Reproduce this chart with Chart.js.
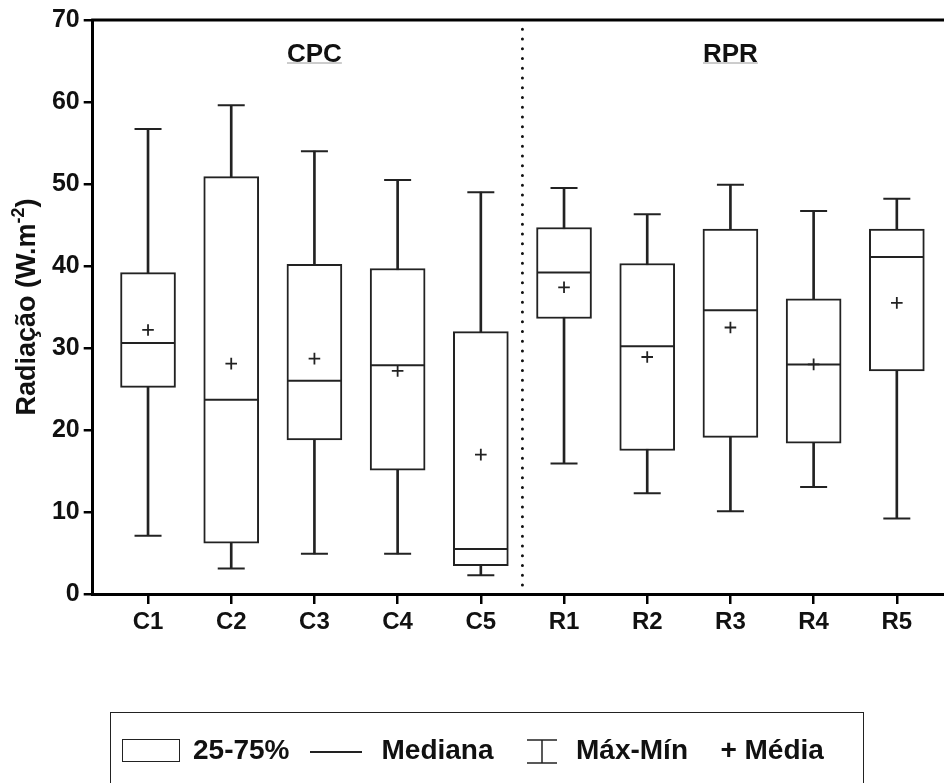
<!DOCTYPE html>
<html lang="pt">
<head>
<meta charset="utf-8">
<title>Radiação por ponto de coleta</title>
<script src="https://cdn.jsdelivr.net/npm/chart.js@4.4.1/dist/chart.umd.min.js"></script>
<style>
  html, body { margin: 0; padding: 0; background: #fff; overflow: hidden; }
  #wrap { position: relative; width: 944px; height: 783px; overflow: hidden; background: #fff; }
  #chart { position: absolute; left: 0; top: 0; }
  .lg { position: absolute; font-family: 'Liberation Sans', Arial, sans-serif; font-weight: bold;
        font-size: 28px; line-height: 28px; color: #111; white-space: nowrap; }
  #legendBox { position: absolute; left: 110px; top: 712px; width: 754px; height: 90px;
               border: 1.5px solid #222; box-sizing: border-box; }
  #symBox { position: absolute; left: 121.5px; top: 739px; width: 58.5px; height: 22.5px;
            border: 1.5px solid #222; box-sizing: border-box; }
  #symLine { position: absolute; left: 310px; top: 751px; width: 52px; height: 1.5px; background: #222; }
  #symRange { position: absolute; left: 526px; top: 739px; }
</style>
</head>
<body>
<div id="wrap">
  <canvas id="chart" width="944" height="783"></canvas>
  <div id="legendBox"></div>
  <div id="symBox"></div>
  <span class="lg" style="left:193px; top:736px;">25-75%</span>
  <div id="symLine"></div>
  <span class="lg" style="left:381.5px; top:736px;">Mediana</span>
  <svg id="symRange" width="32" height="25" viewBox="0 0 32 25">
    <line x1="1" y1="1" x2="31" y2="1" stroke="#222" stroke-width="1.5"/>
    <line x1="16" y1="1" x2="16" y2="24" stroke="#222" stroke-width="1.5"/>
    <line x1="1" y1="24" x2="31" y2="24" stroke="#222" stroke-width="1.5"/>
  </svg>
  <span class="lg" style="left:576px; top:736px;">Máx-Mín</span>
  <span class="lg" style="left:720.5px; top:736px;">+</span>
  <span class="lg" style="left:744.5px; top:736px;">Média</span>
</div>
<script>
// Pontos de coleta
const categories = ['C1', 'C2', 'C3', 'C4', 'C5', 'R1', 'R2', 'R3', 'R4', 'R5'];

// Estatísticas da radiação (W.m-2) por ponto
const maxVals    = [56.7, 59.6, 54.0, 50.5, 49.0, 49.5, 46.3, 49.9, 46.7, 48.2];
const q3Vals     = [39.2, 50.9, 40.2, 39.7, 32.0, 44.7, 40.3, 44.5, 36.0, 44.5];
const medianVals = [30.6, 23.7, 26.0, 27.9, 5.5, 39.2, 30.2, 34.6, 28.0, 41.1];
const meanVals   = [32.2, 28.1, 28.7, 27.2, 17.0, 37.4, 28.9, 32.5, 28.0, 35.5];
const q1Vals     = [25.2, 6.2, 18.8, 15.1, 3.45, 33.6, 17.5, 19.1, 18.4, 27.2];
const minVals    = [7.1, 3.1, 4.9, 4.9, 2.3, 15.9, 12.3, 10.1, 13.05, 9.2];

// Grupos (índices do primeiro e último ponto de cada grupo)
const groupLabels = ['CPC', 'RPR'];
const groupSpans  = [[0, 4], [5, 9]];

// Eixo Y
const yTicks = [0, 10, 20, 30, 40, 50, 60, 70];
const yTitle = 'Radiação (W.m';
const yTitleSup = '-2';
const yTitleEnd = ')';

const FONT = "'Liberation Sans', Arial, sans-serif";
const INK = '#222';

const pos = (i) => i + 1;
const sepX = (groupSpans[0][1] + groupSpans[1][0]) / 2 + 1;

const boxData     = categories.map((c, i) => ({ x: pos(i), y: [q1Vals[i], q3Vals[i]] }));
const stemData    = categories.map((c, i) => ({ x: pos(i), y: [minVals[i], maxVals[i]] }));
const capData     = categories.flatMap((c, i) => [{ x: pos(i), y: maxVals[i] }, { x: pos(i), y: minVals[i] }]);
const medianData  = categories.map((c, i) => ({ x: pos(i), y: medianVals[i] }));
const meanData    = categories.map((c, i) => ({ x: pos(i), y: meanVals[i] }));

// Moldura superior da área do gráfico
const topFrame = {
  id: 'topFrame',
  afterDraw(chart) {
    const { ctx, chartArea } = chart;
    ctx.save();
    ctx.strokeStyle = '#000';
    ctx.lineWidth = 3;
    ctx.beginPath();
    ctx.moveTo(chartArea.left - 1.5, chartArea.top);
    ctx.lineTo(chartArea.right, chartArea.top);
    ctx.stroke();
    ctx.restore();
  }
};

// Rótulos dos grupos, sublinhados
const groupTitles = {
  id: 'groupTitles',
  afterDatasetsDraw(chart) {
    const { ctx } = chart;
    const xs = chart.scales.x, ys = chart.scales.y;
    ctx.save();
    ctx.font = 'bold 26px ' + FONT;
    ctx.fillStyle = '#111';
    ctx.textAlign = 'center';
    ctx.textBaseline = 'alphabetic';
    groupLabels.forEach((lab, g) => {
      const cx = xs.getPixelForValue((pos(groupSpans[g][0]) + pos(groupSpans[g][1])) / 2);
      const base = ys.top + 41.5;
      ctx.fillText(lab, cx, base);
      const w = ctx.measureText(lab).width;
      ctx.strokeStyle = '#9a9a9a';
      ctx.lineWidth = 1;
      ctx.beginPath();
      ctx.moveTo(cx - w / 2, base + 1.5);
      ctx.lineTo(cx + w / 2, base + 1.5);
      ctx.stroke();
    });
    ctx.restore();
  }
};

// Título do eixo Y com expoente
const yAxisTitle = {
  id: 'yAxisTitle',
  afterDraw(chart) {
    const { ctx, chartArea } = chart;
    const mainFont = 'bold 27px ' + FONT;
    const supFont = 'bold 18px ' + FONT;
    ctx.save();
    ctx.font = mainFont;
    const w1 = ctx.measureText(yTitle).width;
    const w3 = ctx.measureText(yTitleEnd).width;
    ctx.font = supFont;
    const w2 = ctx.measureText(yTitleSup).width;
    const total = w1 + w2 + w3;
    ctx.translate(35, (chartArea.top + chartArea.bottom) / 2);
    ctx.rotate(-Math.PI / 2);
    ctx.fillStyle = '#111';
    ctx.textBaseline = 'alphabetic';
    ctx.textAlign = 'left';
    let x = -total / 2;
    ctx.font = mainFont;
    ctx.fillText(yTitle, x, 0);
    x += w1;
    ctx.font = supFont;
    ctx.fillText(yTitleSup, x, -11);
    x += w2;
    ctx.font = mainFont;
    ctx.fillText(yTitleEnd, x, 0);
    ctx.restore();
  }
};

new Chart(document.getElementById('chart'), {
  type: 'bar',
  data: {
    datasets: [
      {
        type: 'line', label: 'separador',
        data: [{ x: sepX, y: 1.1 }, { x: sepX, y: 68.9 }],
        borderColor: '#111', borderWidth: 3, borderDash: [0, 9.75], borderCapStyle: 'round',
        pointRadius: 0, fill: false, order: 5
      },
      {
        label: 'Máx-Mín', data: stemData, grouped: false,
        barThickness: 2, backgroundColor: INK, borderWidth: 0, order: 4
      },
      {
        type: 'scatter', label: 'limites', data: capData,
        pointStyle: 'line', pointRadius: 13.5, borderColor: INK, borderWidth: 2, order: 3
      },
      {
        label: '25-75%', data: boxData, grouped: false,
        barThickness: 55, backgroundColor: '#fff', borderColor: INK, borderWidth: 2,
        borderSkipped: false, order: 2
      },
      {
        type: 'scatter', label: 'Mediana', data: medianData,
        pointStyle: 'line', pointRadius: 27, borderColor: INK, borderWidth: 2, order: 1
      },
      {
        type: 'scatter', label: 'Média', data: meanData,
        pointStyle: 'cross', pointRadius: 5.8, borderColor: INK, borderWidth: 1.8, order: 0
      }
    ]
  },
  options: {
    responsive: false,
    animation: false,
    events: [],
    layout: { autoPadding: false, padding: { top: 20, left: 0, right: 0, bottom: 0 } },
    plugins: { legend: { display: false }, tooltip: { enabled: false } },
    scales: {
      x: {
        type: 'linear', min: 0.335, max: 10.567, offset: false,
        afterBuildTicks: (s) => { s.ticks = categories.map((c, i) => ({ value: pos(i) })); },
        afterFit: (s) => { s.height = 189; },
        ticks: {
          callback: (v) => categories[v - 1],
          autoSkip: false, maxRotation: 0, padding: 4,
          color: '#111', font: { family: FONT, size: 24, weight: 'bold' }
        },
        grid: { offset: false, drawOnChartArea: false, drawTicks: true, tickLength: 10, color: '#000', lineWidth: 2.5 },
        border: { display: true, color: '#000', width: 3 }
      },
      y: {
        min: 0, max: 70,
        afterBuildTicks: (s) => { s.ticks = yTicks.map((v) => ({ value: v })); },
        afterFit: (s) => { s.width = 92.7; },
        ticks: {
          padding: 4, color: '#111', font: { family: FONT, size: 25, weight: 'bold' }
        },
        grid: { offset: false, drawOnChartArea: false, drawTicks: true, tickLength: 9, color: '#000', lineWidth: 2.5 },
        border: { display: true, color: '#000', width: 3 }
      }
    }
  },
  plugins: [topFrame, groupTitles, yAxisTitle]
});
</script>
</body>
</html>
